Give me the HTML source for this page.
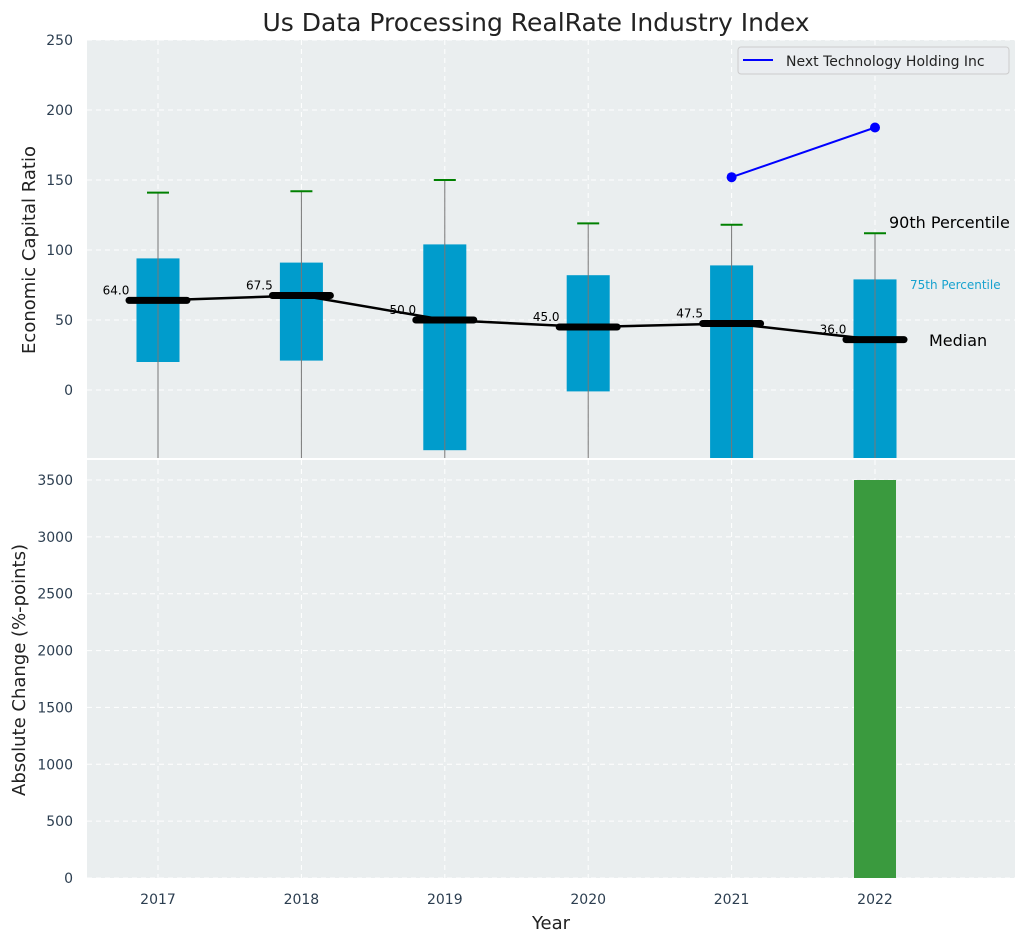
<!DOCTYPE html>
<html><head><meta charset="utf-8"><style>
html,body{margin:0;padding:0;background:#fff;}
svg{display:block;font-family:"DejaVu Sans","Liberation Sans",sans-serif;}
</style></head><body>
<svg id="chart" width="1026" height="942" viewBox="0 0 1026 942" xmlns="http://www.w3.org/2000/svg">
<text x="536" y="31" font-size="25" text-anchor="middle" fill="#222">Us Data Processing RealRate Industry Index</text>
<rect x="87" y="40" width="928" height="418" fill="#eaeeef"/>
<rect x="87" y="460" width="928" height="418" fill="#eaeeef"/>
<g id="g"></g>
<text transform="translate(35,250) rotate(-90)" font-size="18" text-anchor="middle" fill="#222">Economic Capital Ratio</text>
<text transform="translate(25,670) rotate(-90)" font-size="18" text-anchor="middle" fill="#222">Absolute Change (%-points)</text>
<text x="551" y="929" font-size="18" text-anchor="middle" fill="#222">Year</text>
</svg>
<script>
const years=[2017,2018,2019,2020,2021,2022];
const q1=[20,21,-43,-1,-60,-60];
const q3=[94,91,104,82,89,79];
const p90=[141,142,150,119,118,112];
const medians=[64,67.5,50,45,47.5,36];
const companyYears=[2021,2022];
const companyVals=[152,187.5];
const changeYears=[2022];
const changeVals=[3500];
const topTicks=[0,50,100,150,200,250];
const botTicks=[0,500,1000,1500,2000,2500,3000,3500];

const NS="http://www.w3.org/2000/svg";
const g=document.getElementById('g');
const X=v=>158+(v-2017)*143.4;
const YT=v=>390-v*1.4;
const YB=v=>878-v*(398/3500);
function mk(t,a,name,txt){const e=document.createElementNS(NS,t);for(const k in a)e.setAttribute(k,a[k]);


if(txt!==undefined)e.textContent=txt;g.appendChild(e);return e;}
const defs=document.createElementNS(NS,'defs');defs.innerHTML='<clipPath id="ct"><rect x="87" y="40" width="928" height="418"/></clipPath><clipPath id="cb"><rect x="87" y="460" width="928" height="418"/></clipPath>';g.appendChild(defs);
const gt=mk('g',{'clip-path':'url(#ct)'},'top-plot-group');
const gb=mk('g',{'clip-path':'url(#cb)'},'bottom-plot-group');
function add(parent,e){parent.appendChild(e);return e;}
topTicks.forEach(t=>{add(gt,mk('line',{x1:87,x2:1015,y1:YT(t),y2:YT(t),stroke:'#fff','stroke-dasharray':'5,4','stroke-width':1},'grid-line-y'));
mk('text',{x:73,y:YT(t)+5,'font-size':14,'text-anchor':'end',fill:'#2c3e50'},'y-tick-label-top',String(t));});
botTicks.forEach(t=>{add(gb,mk('line',{x1:87,x2:1015,y1:YB(t),y2:YB(t),stroke:'#fff','stroke-dasharray':'5,4','stroke-width':1},'grid-line-y'));
mk('text',{x:73,y:YB(t)+5,'font-size':14,'text-anchor':'end',fill:'#2c3e50'},'y-tick-label-bottom',String(t));});
years.forEach(y=>{add(gt,mk('line',{x1:X(y),x2:X(y),y1:40,y2:458,stroke:'#fff','stroke-dasharray':'5,4'},'grid-line-x'));
add(gb,mk('line',{x1:X(y),x2:X(y),y1:460,y2:878,stroke:'#fff','stroke-dasharray':'5,4'},'grid-line-x'));
mk('text',{x:X(y),y:904,'font-size':14,'text-anchor':'middle',fill:'#2c3e50'},'x-tick-label',String(y));});
const bw=0.3*143.4;
years.forEach((y,i)=>{
add(gt,mk('rect',{x:X(y)-bw/2,y:YT(q3[i]),width:bw,height:YT(q1[i])-YT(q3[i]),fill:'#009ccc'},'box-'+y));
add(gt,mk('line',{x1:X(y),x2:X(y),y1:YT(p90[i]),y2:470,stroke:'#777','stroke-width':1},'whisker-'+y));
add(gt,mk('line',{x1:X(y)-11,x2:X(y)+11,y1:YT(p90[i]),y2:YT(p90[i]),stroke:'#008000','stroke-width':2},'p90-cap-'+y));
});
add(gt,mk('polyline',{points:years.map((y,i)=>X(y)+','+YT(medians[i])).join(' '),fill:'none',stroke:'#000','stroke-width':2.5},'median-line'));
years.forEach((y,i)=>{
add(gt,mk('line',{x1:X(y)-29,x2:X(y)+29,y1:YT(medians[i]),y2:YT(medians[i]),stroke:'#000','stroke-width':7,'stroke-linecap':'round'},'median-marker-'+y));
add(gt,mk('text',{x:X(y)-42,y:YT(medians[i])-6,'font-size':12,'text-anchor':'middle',fill:'#000'},'median-label-'+y,medians[i].toFixed(1)));
});
add(gt,mk('polyline',{points:companyYears.map((y,i)=>X(y)+','+YT(companyVals[i])).join(' '),fill:'none',stroke:'#0000ff','stroke-width':2},'company-line'));
companyYears.forEach((y,i)=>add(gt,mk('circle',{cx:X(y),cy:YT(companyVals[i]),r:5,fill:'#0000ff'},'company-point-'+y)));
mk('text',{x:889,y:228,'font-size':16,fill:'#000'},'label-90th-percentile','90th Percentile');
mk('text',{x:910,y:289,'font-size':12,fill:'#17a2cf'},'label-75th-percentile','75th Percentile');
mk('text',{x:929,y:346,'font-size':16,fill:'#000'},'label-median','Median');
mk('rect',{x:738,y:47,width:271,height:27,rx:3,fill:'#eaedf0',stroke:'#ccc'},'legend-box');
mk('line',{x1:743,x2:773,y1:60,y2:60,stroke:'#0000ff','stroke-width':2},'legend-line');
mk('text',{x:786,y:66,'font-size':14,fill:'#222'},'legend-entry','Next Technology Holding Inc');
changeYears.forEach((y,i)=>add(gb,mk('rect',{x:X(y)-21,y:YB(changeVals[i]),width:42,height:YB(0)-YB(changeVals[i]),fill:'#3a9a3e'},'change-bar-'+y)));
</script>
</body></html>
